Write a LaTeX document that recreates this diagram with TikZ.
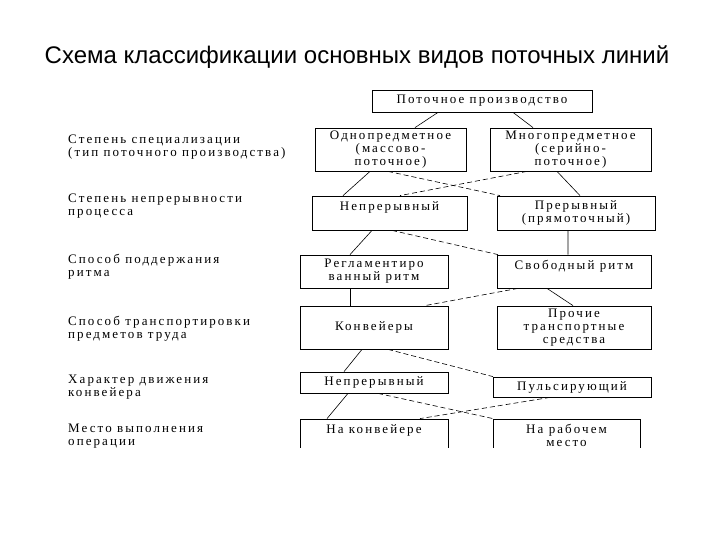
\documentclass[tikz,border=0pt]{standalone}
\usepackage{fontspec}
\setmainfont{Liberation Serif}
\newfontfamily\titlefont{Liberation Sans}
\newfontfamily\boxfont{Liberation Serif}[LetterSpace=16]
\usetikzlibrary{positioning}

\begin{document}
\begin{tikzpicture}[x=1bp,y=-1bp,
  bx/.style={draw,line width=0.8bp,inner sep=0pt,align=center,
    font=\boxfont\fontsize{13bp}{13bp}\selectfont},
  lbl/.style={anchor=west,inner sep=0pt,align=left,
    font=\boxfont\fontsize{13bp}{13bp}\selectfont},
  ln/.style={line width=0.6bp},
  dln/.style={ln,dash pattern=on 5bp off 3bp}]
\useasboundingbox (0,0) rectangle (720,540);
\node[font=\titlefont\fontsize{24bp}{26bp}\selectfont] (title) at (357,57)
  {Схема классификации основных видов поточных линий};

\begin{scope}
\clip (0,70) rectangle (720,447);
% levels (left column)
\node[lbl] (spec)   at (68,147.5) {Степень специализации\\(тип поточного производства)};
\node[lbl] (cnt)    at (68,206)   {Степень непрерывности\\процесса};
\node[lbl] (rhythm) at (68,266.5) {Способ поддержания\\ритма};
\node[lbl] (trans)  at (68,328.5) {Способ транспортировки\\предметов труда};
\node[lbl] (move)   at (68,387.5) {Характер движения\\конвейера};
\node[lbl] (place)  at (68,436.5) {Место выполнения\\операции};

% boxes
\node[bx,minimum width=220bp,minimum height=22bp] (top)    at (482,101)   {Поточное производство};
\node[bx,minimum width=151bp,minimum height=43bp] (one)    at (390.5,149.5) {Однопредметное\\(массово-\\поточное)};
\node[bx,minimum width=161bp,minimum height=43bp] (multi)  at (570.5,149.5) {Многопредметное\\(серийно-\\поточное)};
\node[bx,minimum width=155bp,minimum height=34bp] (cont)   at (389.5,213) {Непрерывный\\\mbox{}};
\node[bx,minimum width=158bp,minimum height=34bp] (disc)   at (576,213)   {Прерывный\\(прямоточный)};
\node[bx,minimum width=148bp,minimum height=33bp] (reg)    at (374,271.5) {Регламентиро\\ванный ритм};
\node[bx,minimum width=154bp,minimum height=33bp] (free)   at (574,271.5) {Свободный ритм\\\mbox{}};
\node[bx,minimum width=148bp,minimum height=43bp] (conv)   at (374,327.5) {Конвейеры};
\node[bx,minimum width=154bp,minimum height=43bp] (other)  at (574,327.5) {Прочие\\транспортные\\средства};
\node[bx,minimum width=148bp,minimum height=21bp] (cmove)  at (374,382.5) {Непрерывный};
\node[bx,minimum width=158bp,minimum height=20bp] (pulse)  at (572,387)   {Пульсирующий};
\node[bx,minimum width=148bp,minimum height=33bp] (onconv) at (374,435.5) {На конвейере\\\mbox{}};
\node[bx,minimum width=147bp,minimum height=33bp] (atwork) at (566.5,435.5) {На рабочем\\место};

% links
\draw[ln]  ([xshift=-44bp]top.south)   -- ([xshift=24.5bp]one.north);
\draw[ln]  ([xshift=31bp]top.south)    -- ([xshift=-37.5bp]multi.north);
\draw[ln]  ([xshift=-20.5bp]one.south) -- ([xshift=-46.5bp]cont.north);
\draw[dln] ([xshift=-2.5bp]one.south)  -- ([xshift=-76bp]disc.north);
\draw[dln] ([xshift=-43.5bp]multi.south) -- ([xshift=10.5bp]cont.north);
\draw[ln]  ([xshift=-13.5bp]multi.south) -- ([xshift=4bp]disc.north);
\draw[ln]  ([xshift=-17.5bp]cont.south) -- ([xshift=-24bp]reg.north);
\draw[dln] ([xshift=2.5bp]cont.south)  -- ([xshift=-76bp]free.north);
\draw[ln]  ([xshift=-8bp]disc.south)   -- ([xshift=-6bp]free.north);
\draw[ln]  ([xshift=-24bp]reg.south)   -- ([xshift=-24bp]conv.north);
\draw[dln] ([xshift=-56bp]free.south)  -- ([xshift=51bp]conv.north);
\draw[ln]  ([xshift=-27bp]free.south)  -- ([xshift=-1bp]other.north);
\draw[ln]  ([xshift=-12bp]conv.south)  -- ([xshift=-30bp]cmove.north);
\draw[dln] ([xshift=14bp]conv.south)   -- ([xshift=-79bp]pulse.north);
\draw[ln]  ([xshift=-26bp]cmove.south) -- ([xshift=-47bp]onconv.north);
\draw[dln] ([xshift=4bp]cmove.south)   -- ([xshift=-73.5bp]atwork.north);
\draw[dln] ([xshift=-22bp]pulse.south) -- ([xshift=46bp]onconv.north);
\end{scope}
\end{tikzpicture}
\end{document}
